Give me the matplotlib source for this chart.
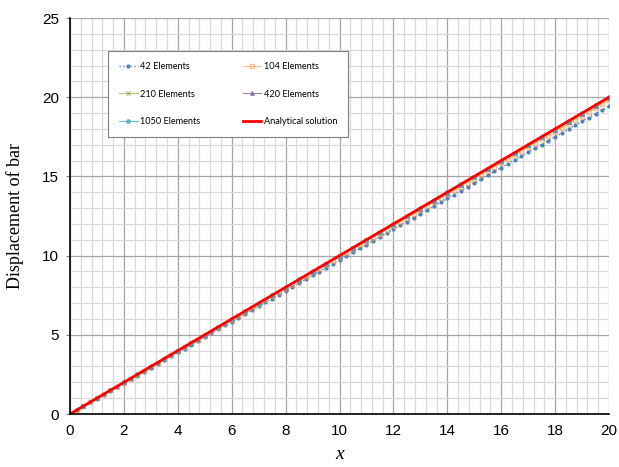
import matplotlib
matplotlib.use("Agg")
import matplotlib.pyplot as plt
from matplotlib.ticker import MultipleLocator

# Nodal positions along the bar
x_fine = [0.00, 0.25, 0.50, 0.75, 1.00, 1.25, 1.50, 1.75, 2.00, 2.25,
          2.50, 2.75, 3.00, 3.25, 3.50, 3.75, 4.00, 4.25, 4.50, 4.75,
          5.00, 5.25, 5.50, 5.75, 6.00, 6.25, 6.50, 6.75, 7.00, 7.25,
          7.50, 7.75, 8.00, 8.25, 8.50, 8.75, 9.00, 9.25, 9.50, 9.75,
          10.00, 10.25, 10.50, 10.75, 11.00, 11.25, 11.50, 11.75, 12.00, 12.25,
          12.50, 12.75, 13.00, 13.25, 13.50, 13.75, 14.00, 14.25, 14.50, 14.75,
          15.00, 15.25, 15.50, 15.75, 16.00, 16.25, 16.50, 16.75, 17.00, 17.25,
          17.50, 17.75, 18.00, 18.25, 18.50, 18.75, 19.00, 19.25, 19.50, 19.75,
          20.00]

x_coarse = [0.0, 0.5, 1.0, 1.5, 2.0, 2.5, 3.0, 3.5, 4.0, 4.5,
            5.0, 5.5, 6.0, 6.5, 7.0, 7.5, 8.0, 8.5, 9.0, 9.5,
            10.0, 10.5, 11.0, 11.5, 12.0, 12.5, 13.0, 13.5, 14.0, 14.5,
            15.0, 15.5, 16.0, 16.5, 17.0, 17.5, 18.0, 18.5, 19.0, 19.5,
            20.0]

u_42 = [0.00, 0.24, 0.49, 0.73, 0.97, 1.22, 1.46, 1.70, 1.94, 2.19,
        2.43, 2.67, 2.92, 3.16, 3.40, 3.65, 3.89, 4.13, 4.37, 4.62,
        4.86, 5.10, 5.35, 5.59, 5.83, 6.08, 6.32, 6.56, 6.80, 7.05,
        7.29, 7.53, 7.78, 8.02, 8.26, 8.51, 8.75, 8.99, 9.23, 9.48,
        9.72, 9.96, 10.21, 10.45, 10.69, 10.94, 11.18, 11.42, 11.66, 11.91,
        12.15, 12.39, 12.64, 12.88, 13.12, 13.37, 13.61, 13.85, 14.09, 14.34,
        14.58, 14.82, 15.07, 15.31, 15.55, 15.80, 16.04, 16.28, 16.52, 16.77,
        17.01, 17.25, 17.50, 17.74, 17.98, 18.23, 18.47, 18.71, 18.95, 19.20,
        19.44]

u_104 = [0.00, 0.25, 0.50, 0.74, 0.99, 1.24, 1.49, 1.73, 1.98, 2.23,
         2.48, 2.72, 2.97, 3.22, 3.47, 3.71, 3.96, 4.21, 4.46, 4.70,
         4.95, 5.20, 5.45, 5.69, 5.94, 6.19, 6.44, 6.68, 6.93, 7.18,
         7.43, 7.67, 7.92, 8.17, 8.42, 8.66, 8.91, 9.16, 9.41, 9.65,
         9.90, 10.15, 10.40, 10.64, 10.89, 11.14, 11.39, 11.63, 11.88, 12.13,
         12.38, 12.62, 12.87, 13.12, 13.37, 13.61, 13.86, 14.11, 14.36, 14.60,
         14.85, 15.10, 15.35, 15.59, 15.84, 16.09, 16.34, 16.58, 16.83, 17.08,
         17.33, 17.57, 17.82, 18.07, 18.32, 18.56, 18.81, 19.06, 19.31, 19.55,
         19.80]

u_210 = [0.00, 0.50, 1.00, 1.49, 1.99, 2.49, 2.99, 3.49, 3.98, 4.48,
         4.98, 5.48, 5.98, 6.47, 6.97, 7.47, 7.97, 8.47, 8.96, 9.46,
         9.96, 10.46, 10.96, 11.45, 11.95, 12.45, 12.95, 13.45, 13.94, 14.44,
         14.94, 15.44, 15.94, 16.43, 16.93, 17.43, 17.93, 18.43, 18.92, 19.42,
         19.92]

u_420 = [0.00, 0.50, 1.00, 1.50, 2.00, 2.50, 2.99, 3.49, 3.99, 4.49,
         4.99, 5.49, 5.99, 6.49, 6.99, 7.49, 7.98, 8.48, 8.98, 9.48,
         9.98, 10.48, 10.98, 11.48, 11.98, 12.48, 12.97, 13.47, 13.97, 14.47,
         14.97, 15.47, 15.97, 16.47, 16.97, 17.47, 17.96, 18.46, 18.96, 19.46,
         19.96]

u_1050 = [0.00, 0.50, 1.00, 1.50, 2.00, 2.50, 3.00, 3.50, 4.00, 4.50,
          5.00, 5.50, 6.00, 6.50, 7.00, 7.50, 8.00, 8.50, 9.00, 9.50,
          10.00, 10.50, 11.00, 11.50, 12.00, 12.50, 13.00, 13.50, 14.00, 14.50,
          14.99, 15.49, 15.99, 16.49, 16.99, 17.49, 17.99, 18.49, 18.99, 19.49,
          19.99]

x_exact = [0.0, 20.0]
u_exact = [0.0, 20.0]

fig = plt.figure(figsize=(6.19, 4.67), dpi=100)
ax = fig.add_axes([70 / 619, 1 - 414 / 467, 539 / 619, 396 / 467])

# Grid
ax.set_xlim(0, 20)
ax.set_ylim(0, 25)
ax.xaxis.set_major_locator(MultipleLocator(2))
ax.xaxis.set_minor_locator(MultipleLocator(0.4))
ax.yaxis.set_major_locator(MultipleLocator(5))
ax.yaxis.set_minor_locator(MultipleLocator(1))
ax.grid(which="minor", color="#d9d9d9", linewidth=0.9)
ax.grid(which="major", color="#a6a6a6", linewidth=0.9)
ax.set_axisbelow(True)

h42, = ax.plot(x_fine, u_42, color="#4f81bd", linestyle=":", linewidth=1.0,
               marker="o", markersize=2.0, label="42 Elements")
h104, = ax.plot(x_fine, u_104, color="#f79646", linestyle="-", linewidth=0.8, alpha=0.6,
                marker="s", markersize=3, markerfacecolor="none", label="104 Elements")
h210, = ax.plot(x_coarse, u_210, color="#9bbb59", linewidth=0.8, alpha=0.8,
                marker="x", markersize=3, label="210 Elements")
h420, = ax.plot(x_coarse, u_420, color="#8064a2", linewidth=0.8, alpha=0.8,
                marker="^", markersize=2.5, label="420 Elements")
h1050, = ax.plot(x_coarse, u_1050, color="#4bacc6", linewidth=0.8, alpha=0.8,
                 marker="o", markersize=2.5, label="1050 Elements")
hex_, = ax.plot(x_exact, u_exact, color="#ff0000", linewidth=2.0,
                label="Analytical solution")

for side in ("top", "right"):
    ax.spines[side].set_visible(False)
for side in ("left", "bottom"):
    ax.spines[side].set_color("black")
    ax.spines[side].set_linewidth(1.2)
ax.tick_params(axis="y", which="major", direction="out", length=3, width=0.8,
               color="#808080", labelsize=11, pad=5)
ax.tick_params(axis="x", which="major", length=0, labelsize=11, pad=7)
ax.tick_params(which="minor", length=0)
for lbl in ax.get_xticklabels() + ax.get_yticklabels():
    lbl.set_fontfamily("Liberation Sans")

ax.set_ylabel("Displacement of bar", fontfamily="Liberation Serif",
              fontsize=13, labelpad=13)
ax.set_xlabel("x", fontfamily="Liberation Serif", fontstyle="italic",
              fontsize=14, labelpad=6)

# Row-wise ordering of legend entries in two columns
order = [h42, h210, h1050, h104, h420, hex_]
leg = ax.legend(handles=order, labels=[h.get_label() for h in order],
                loc="upper left", bbox_to_anchor=(0.071, 0.917), ncol=2,
                frameon=True, fancybox=False, framealpha=1,
                edgecolor="#808080", handlelength=2.0, handletextpad=0.3,
                labelspacing=2.05, columnspacing=4.6, borderpad=1.2,
                borderaxespad=0, prop={"family": "Lato", "size": 6.6})
leg.get_frame().set_linewidth(0.8)

fig.savefig("out.png", dpi=100)
